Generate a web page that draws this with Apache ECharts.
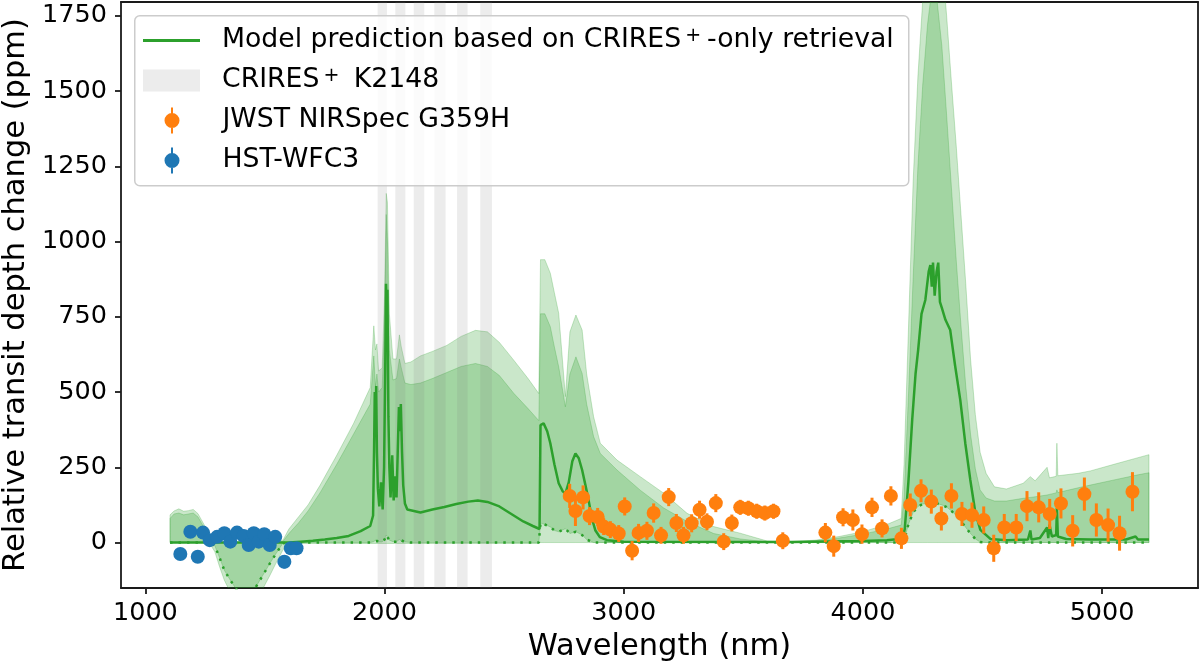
<!DOCTYPE html>
<html>
<head>
<meta charset="UTF-8">
<title>Transit depth change</title>
<style>
  body{margin:0;padding:0;background:#fff;}
  #chart{width:1200px;height:667px;}
</style>
</head>
<body>
<div id="chart"></div>
<script src="https://cdn.jsdelivr.net/npm/echarts@6/dist/echarts.min.js"></script>
<script>
// tick labels
var xTicks = [1000, 2000, 3000, 4000, 5000];
var yTicks = [0, 250, 500, 750, 1000, 1250, 1500, 1750];

// model posterior bands (ppm), all on the wlBand grid
var wlBand = [1103,1120,1140,1160,1180,1200,1220,1245,1270,1290,
  1310,1330,1355,1380,1420,1460,1490,1520,1545,1575,
  1600,1640,1680,1730,1800,1870,1940,1955,1962,1968,
  1975,1990,2000,2007,2012,2020,2035,2050,2062,2070,
  2085,2110,2150,2200,2260,2320,2380,2430,2480,2540,
  2600,2645,2652,2670,2693,2710,2728,2756,2775,2800,
  2826,2845,2874,2902,2972,3069,3167,3265,3376,3487,
  3600,3700,3800,3900,4000,4100,4160,4172,4190,4210,
  4230,4250,4270,4290,4310,4330,4350,4370,4390,4410,
  4430,4450,4470,4490,4515,4550,4600,4670,4700,4720,
  4770,4780,4808,4811,4815,4900,4951,5050,5150,5196];
var lo2 = [0,0,0,0,0,0,0,0,-5,-30,
  -80,-125,-165,-195,-210,-195,-155,-110,-70,-25,
  -5,-3,-3,-3,-3,-3,-3,-3,-3,-3,
  -3,-3,-3,-3,-3,-3,-3,-3,-3,-3,
  -3,-3,-3,-3,-3,-3,-3,-3,-3,-3,
  -3,-3,0,0,0,0,0,0,0,0,
  0,0,0,0,0,0,0,0,0,0,
  0,0,0,0,0,0,0,0,0,0,
  0,0,0,0,0,0,0,0,0,0,
  0,0,0,0,0,0,0,0,0,0,
  0,0,0,0,0,0,0,0,0,0];
var dotted = [0,0,0,0,0,0,0,0,0,-10,
  -50,-92,-125,-155,-175,-150,-110,-70,-38,-2,
  0,0,0,0,0,0,0,3,8,5,
  2,2,10,25,20,8,3,3,10,5,
  2,0,0,0,0,0,0,0,0,0,
  0,0,65,60,52,40,36,46,30,36,
  25,10,0,0,0,0,0,0,0,0,
  0,0,0,0,0,0,0,5,60,100,
  120,128,130,130,130,125,118,105,90,72,
  50,30,12,2,0,0,0,0,0,0,
  0,0,0,0,0,0,0,0,0,0];
var hi1 = [80,95,98,92,95,98,85,50,12,2,
  0,0,0,0,0,0,0,0,0,4,
  30,65,105,165,260,360,460,620,520,560,
  500,515,720,1090,1000,640,540,545,610,580,
  530,525,530,545,565,585,595,585,555,496,
  445,405,760,760,717,650,584,451,560,617,
  562,460,352,296,241,174,115,70,30,12,
  2,2,6,15,28,45,58,150,480,880,
  1250,1520,1720,1850,1800,1650,1420,1180,940,720,
  520,360,245,175,148,138,138,147,150,152,
  158,160,165,175,166,182,191,208,225,232];
var hi2 = [92,105,112,104,106,110,96,60,18,5,
  2,2,2,2,2,2,2,2,4,8,
  45,85,125,190,290,395,515,720,640,660,
  570,580,820,1160,1130,760,610,610,690,650,
  595,600,620,635,655,685,705,700,665,606,
  545,495,940,940,895,830,762,485,700,756,
  706,560,418,330,274,219,164,97,53,31,
  5,3,8,20,36,60,80,260,700,1200,
  1550,1800,2000,2100,2050,1950,1750,1530,1320,1090,
  860,610,425,300,230,185,178,197,219,205,
  250,215,220,330,222,230,238,260,282,292];

// median model
var wlMed = [1103,1600,1650,1700,1750,1800,1850,1900,1940,1952,
  1956,1959,1962,1965,1968,1972,1978,1985,1992,1998,
  2003,2006,2009,2012,2016,2020,2025,2032,2038,2045,
  2050,2055,2060,2064,2068,2073,2078,2085,2095,2150,
  2200,2250,2300,2350,2390,2430,2480,2530,2580,2620,
  2648,2652,2665,2680,2693,2710,2728,2745,2756,2770,
  2785,2798,2812,2826,2840,2853,2867,2881,2900,2930,
  3000,3700,4000,4100,4150,4168,4175,4190,4206,4220,
  4231,4245,4261,4275,4282,4288,4293,4300,4308,4315,
  4322,4330,4345,4365,4385,4407,4428,4449,4470,4491,
  4533,4600,4690,4700,4705,4740,4770,4775,4780,4790,
  4808,4811,4815,4850,4950,5100,5140,5150,5196];
var med = [0,0,3,6,10,15,22,38,55,90,
  300,500,380,520,300,180,120,200,110,250,
  600,860,780,840,420,250,150,290,140,220,
  150,300,450,370,460,300,190,130,110,100,
  110,118,128,136,140,135,120,95,70,55,
  45,390,396,370,330,260,197,170,163,200,
  270,296,280,241,190,141,80,41,18,8,
  3,2,5,8,12,20,45,200,407,560,
  640,760,806,900,922,850,930,820,900,930,
  800,780,740,706,590,474,330,208,100,42,
  12,8,10,40,10,15,50,15,60,20,
  25,115,20,12,10,10,20,10,10];

// CRIRES+ K2148 order coverage (nm)
var criresStart = [1971, 2045, 2122, 2208, 2303, 2400];
var criresEnd = [2010, 2087, 2166, 2255, 2347, 2449];

// JWST NIRSpec points
var jwstWl = [2774,2798,2830,2857,2891,2916,2944,2979,3004,3035,
  3062,3097,3125,3156,3188,3220,3250,3284,3317,3348,
  3385,3418,3452,3487,3521,3556,3590,3626,3665,3843,
  3878,3917,3958,3996,4038,4080,4117,4161,4198,4243,
  4286,4328,4370,4414,4456,4505,4547,4591,4641,4686,
  4735,4781,4828,4877,4926,4976,5025,5073,5127];
var jwstVal = [155,105,150,88,85,53,43,30,120,-27,
  32,39,98,24,151,65,24,64,109,69,
  131,3,65,117,114,104,98,104,6,33,
  -12,84,75,28,117,47,155,14,125,172,
  136,80,155,95,91,75,-19,50,50,121,
  117,95,130,39,161,75,58,31,169];
var jwstErr = [40,50,40,30,30,28,28,28,30,32,
  30,30,32,28,30,30,28,30,30,28,
  30,28,28,25,25,25,25,25,28,32,
  35,30,35,32,32,30,32,35,38,38,
  40,40,42,40,42,45,45,45,45,50,
  50,50,50,52,55,55,55,58,65];

// HST WFC3 points
var hstWl = [1146,1188,1219,1241,1269,1300,1330,1355,1383,1411,
  1432,1453,1474,1497,1520,1543,1581,1608,1632];
var hstVal = [-38,36,-47,33,8,19,31,3,33,22,
  -8,31,3,28,-8,19,-64,-19,-19];
var hstErr = [20,20,20,20,20,20,20,20,20,20,
  20,20,20,20,20,20,22,20,20];

var font = 'DejaVu Sans';
var green = '#2ca02c', orange = '#ff7f0e', blue = '#1f77b4';
var gray = 'rgba(128,128,128,0.15)';
var ink = '#1a1a1a';

function pairs(xs, ys) { return xs.map(function (x, i) { return [x, ys[i]]; }); }
function triples(xs, ys, es) { return xs.map(function (x, i) { return [x, ys[i], es[i]]; }); }

// one filled polygon between lo and hi, drawn once for the whole series
function bandSeries(name, lo, hi, z) {
  return {
    name: name, type: 'custom', silent: true, clip: true, z: z,
    data: triples(wlBand, lo, hi),
    encode: { x: 0, y: [1, 2] },
    renderItem: function (params, api) {
      if (params.dataIndexInside !== 0) return null;
      var pts = [], i;
      for (i = 0; i < wlBand.length; i++) pts.push(api.coord([wlBand[i], hi[i]]));
      for (i = wlBand.length - 1; i >= 0; i--) pts.push(api.coord([wlBand[i], lo[i]]));
      return { type: 'polygon', shape: { points: pts },
        style: { fill: 'rgba(44,160,44,0.25)', stroke: 'rgba(44,160,44,0.25)', lineWidth: 1 } };
    }
  };
}

function errBars(color) {
  return function (params, api) {
    var x = api.value(0), y = api.value(1), e = api.value(2);
    var a = api.coord([x, y - e]), b = api.coord([x, y + e]);
    return { type: 'line', shape: { x1: a[0], y1: a[1], x2: b[0], y2: b[1] },
      style: { stroke: color, lineWidth: 3 } };
  };
}

var nameModel = 'Model prediction based on CRIRES+-only retrieval';
var nameCrires = 'CRIRES+ K2148';
var nameJwst = 'JWST NIRSpec G359H';
var nameHst = 'HST-WFC3';
var labels = {};
labels[nameModel] = '{sp| }{t|Model prediction based on CRIRES}{sup|+}{t|-only retrieval}';
labels[nameCrires] = '{sp| }{t|CRIRES}{sup|+}{t| K2148}';
labels[nameJwst] = '{sp| }{t|JWST NIRSpec G359H}';
labels[nameHst] = '{sp| }{t|HST-WFC3}';

var rich = {
  sp: { width: 17 },
  t: { fontFamily: font, fontSize: 26.7, color: '#000' },
  sup: { fontFamily: font, fontSize: 19, color: '#000', verticalAlign: 'top', padding: [0, 6, 0, 4] }
};

function legendRow(name, icon, left, top) {
  return {
    data: [{ name: name, icon: icon }],
    left: left, top: top, padding: 0,
    itemWidth: 57, itemHeight: 26,
    selectedMode: false, z: 11,
    formatter: function (n) { return labels[n]; },
    textStyle: { rich: rich }
  };
}

var lineIcon = 'path://M0,0h57v3h-57z';
var patchIcon = 'path://M0,0h57v22h-57z';
var errIcon = 'path://M6.5,0h2v26h-2z M0,13a7.5,7.5 0 1 1 15,0a7.5,7.5 0 1 1 -15,0z';

function plain(v) { return String(v); }

var chart = echarts.init(document.getElementById('chart'));
chart.setOption({
  animation: false,
  backgroundColor: '#fff',
  grid: { left: 121, right: 2, top: 2, bottom: 79, outerBoundsMode: 'none', containLabel: false },
  legend: [
    legendRow(nameModel, lineIcon, 143, 27),
    legendRow(nameCrires, patchIcon, 143, 67),
    legendRow(nameJwst, errIcon, 164.5, 107),
    legendRow(nameHst, errIcon, 164.5, 147)
  ],
  graphic: [{
    type: 'rect', left: 134, top: 15, z: 10,
    shape: { width: 774, height: 170, r: 5 },
    style: { fill: 'rgba(255,255,255,0.8)', stroke: '#cccccc', lineWidth: 1.5 }
  }],
  xAxis: [{
    type: 'value', min: 898, max: 5401,
    name: 'Wavelength (nm)', nameLocation: 'middle', nameGap: 44,
    nameTextStyle: { fontFamily: font, fontSize: 30.5, color: '#000' },
    axisLine: { onZero: false, lineStyle: { color: ink, width: 1.8 } },
    axisTick: { customValues: xTicks, length: 6, lineStyle: { color: ink, width: 1.8 } },
    axisLabel: { customValues: xTicks, formatter: plain, fontFamily: font, fontSize: 25.5, color: '#000', margin: 12 },
    splitLine: { show: false }
  }, {
    type: 'value', position: 'top', min: 898, max: 5401,
    axisLine: { onZero: false, lineStyle: { color: ink, width: 1.8 } },
    axisTick: { show: false }, axisLabel: { show: false }, splitLine: { show: false }
  }],
  yAxis: [{
    type: 'value', min: -151, max: 1796,
    name: 'Relative transit depth change (ppm)', nameLocation: 'middle', nameGap: 69, nameRotate: 90,
    nameTextStyle: { fontFamily: font, fontSize: 30.5, color: '#000' },
    axisLine: { show: true, onZero: false, lineStyle: { color: ink, width: 1.8 } },
    axisTick: { show: true, customValues: yTicks, length: 6, lineStyle: { color: ink, width: 1.8 } },
    axisLabel: { customValues: yTicks, formatter: plain, fontFamily: font, fontSize: 25.5, color: '#000', margin: 14 },
    splitLine: { show: false }
  }, {
    type: 'value', position: 'right', min: -151, max: 1796,
    axisLine: { show: true, onZero: false, lineStyle: { color: ink, width: 1.8 } },
    axisTick: { show: false }, axisLabel: { show: false }, splitLine: { show: false }
  }],
  series: [
    bandSeries('band2', lo2, hi2, 1),
    bandSeries('band1', dotted, hi1, 2),
    { name: nameCrires, type: 'custom', z: 3, silent: true,
      itemStyle: { color: gray },
      data: criresStart.map(function (s, i) { return [s, criresEnd[i]]; }),
      encode: { x: [0, 1] },
      renderItem: function (params, api) {
        var cs = params.coordSys;
        var x0 = api.coord([api.value(0), 0])[0];
        var x1 = api.coord([api.value(1), 0])[0];
        return { type: 'rect', shape: { x: x0, y: cs.y, width: x1 - x0, height: cs.height },
          style: { fill: gray } };
      } },
    { name: 'dotted', type: 'line', data: pairs(wlBand, dotted), symbol: 'none', silent: true,
      lineStyle: { color: green, width: 2.5, type: [2.5, 6] }, z: 4 },
    { name: nameModel, type: 'line', data: pairs(wlMed, med), symbol: 'none', color: green,
      lineStyle: { color: green, width: 2.5 }, z: 4 },
    { name: nameJwst, type: 'scatter', data: pairs(jwstWl, jwstVal), symbolSize: 14,
      itemStyle: { color: orange, opacity: 1 }, z: 6 },
    { name: nameJwst, type: 'custom', data: triples(jwstWl, jwstVal, jwstErr),
      encode: { x: 0, y: 1 }, itemStyle: { color: orange }, renderItem: errBars(orange), z: 5 },
    { name: nameHst, type: 'scatter', data: pairs(hstWl, hstVal), symbolSize: 14,
      itemStyle: { color: blue, opacity: 1 }, z: 6 },
    { name: nameHst, type: 'custom', data: triples(hstWl, hstVal, hstErr),
      encode: { x: 0, y: 1 }, itemStyle: { color: blue }, renderItem: errBars(blue), z: 5 }
  ]
});
</script>
</body>
</html>
